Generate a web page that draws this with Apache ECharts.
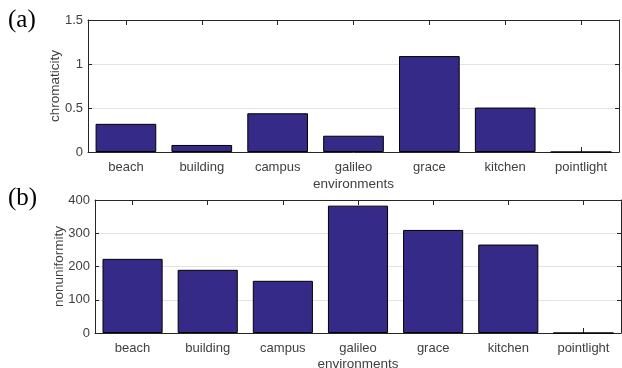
<!DOCTYPE html>
<html>
<head>
<meta charset="utf-8">
<script src="https://cdn.jsdelivr.net/npm/echarts@6/dist/echarts.min.js"></script>
<style>
  html, body { margin: 0; padding: 0; background: #fff; }
  #chart { width: 622px; height: 368px; }
</style>
</head>
<body>
<div id="chart"></div>
<script>
const environments = ['beach', 'building', 'campus', 'galileo', 'grace', 'kitchen', 'pointlight'];
const chromaticity = [0.32, 0.08, 0.44, 0.185, 1.09, 0.505, 0];
const nonuniformity = [223, 190, 157, 383, 310, 266, 0];
const chromaTicks = { min: 0, max: 1.5, interval: 0.5 };
const nonunifTicks = { min: 0, max: 400, interval: 100 };

const BAR_COLOR = '#352A87';
const FRAME = '#262626';
const LABEL = '#404040';
const FONT = '"Liberation Sans", Arial, Helvetica, sans-serif';
const TICK_SIZE = 13;
const NAME_SIZE = 13.5;

function xAxesFor(gridIndex, nameGap, labelMargin) {
  return [
    {
      type: 'category', gridIndex, data: environments, position: 'bottom',
      name: 'environments', nameLocation: 'middle', nameGap, nameMoveOverlap: false,
      nameTextStyle: { color: LABEL, fontFamily: FONT, fontSize: NAME_SIZE },
      axisLine: { show: true, onZero: false, lineStyle: { color: FRAME, width: 1 } },
      axisTick: { show: true, inside: true, alignWithLabel: true, length: 5, lineStyle: { color: FRAME } },
      axisLabel: { color: LABEL, fontFamily: FONT, fontSize: TICK_SIZE, margin: labelMargin },
      splitLine: { show: false }
    },
    {
      type: 'category', gridIndex, data: environments, position: 'top',
      axisLine: { show: true, onZero: false, lineStyle: { color: FRAME, width: 1 } },
      axisTick: { show: true, inside: true, alignWithLabel: true, length: 5, lineStyle: { color: FRAME } },
      axisLabel: { show: false },
      splitLine: { show: false }
    }
  ];
}

function yAxesFor(gridIndex, ticks, name, nameGap) {
  const common = { type: 'value', gridIndex, min: ticks.min, max: ticks.max, interval: ticks.interval };
  return [
    Object.assign({}, common, {
      position: 'left',
      name, nameLocation: 'middle', nameGap, nameMoveOverlap: false,
      nameTextStyle: { color: LABEL, fontFamily: FONT, fontSize: NAME_SIZE },
      axisLine: { show: true, onZero: false, lineStyle: { color: FRAME, width: 1 } },
      axisTick: { show: true, inside: true, length: 4, lineStyle: { color: FRAME } },
      axisLabel: { color: LABEL, fontFamily: FONT, fontSize: TICK_SIZE, margin: 5 },
      splitLine: { show: true, lineStyle: { color: '#e3e3e3', width: 1 } }
    }),
    Object.assign({}, common, {
      position: 'right',
      axisLine: { show: true, onZero: false, lineStyle: { color: FRAME, width: 1 } },
      axisTick: { show: true, inside: true, length: 4, lineStyle: { color: FRAME } },
      axisLabel: { show: false },
      splitLine: { show: false }
    })
  ];
}

const chart = echarts.init(document.getElementById('chart'), null, { renderer: 'canvas' });

chart.setOption({
  animation: false,
  backgroundColor: '#ffffff',
  grid: [
    { left: 88, right: 3, top: 20, height: 132, outerBoundsMode: 'none' },
    { left: 95, right: 1, top: 200, height: 133, outerBoundsMode: 'none' }
  ],
  xAxis: [].concat(xAxesFor(0, 25, 9), xAxesFor(1, 24, 9)),
  yAxis: [].concat(
    yAxesFor(0, chromaTicks, 'chromaticity', 26),
    yAxesFor(1, nonunifTicks, 'nonuniformity', 29)
  ),
  series: [
    {
      type: 'bar', xAxisIndex: 0, yAxisIndex: 0, data: chromaticity,
      barWidth: '80%',
      itemStyle: { color: BAR_COLOR, borderColor: '#000', borderWidth: 1 }
    },
    {
      type: 'bar', xAxisIndex: 2, yAxisIndex: 2, data: nonuniformity,
      barWidth: '80%',
      itemStyle: { color: BAR_COLOR, borderColor: '#000', borderWidth: 1 }
    }
  ],
  graphic: [
    { type: 'text', left: 8, top: 8, style: { text: '(a)', fontFamily: '"Liberation Serif", "Times New Roman", serif', fontSize: 25, fill: '#000' } },
    { type: 'text', left: 8, top: 186, style: { text: '(b)', fontFamily: '"Liberation Serif", "Times New Roman", serif', fontSize: 25, fill: '#000' } }
  ]
});
</script>
</body>
</html>
